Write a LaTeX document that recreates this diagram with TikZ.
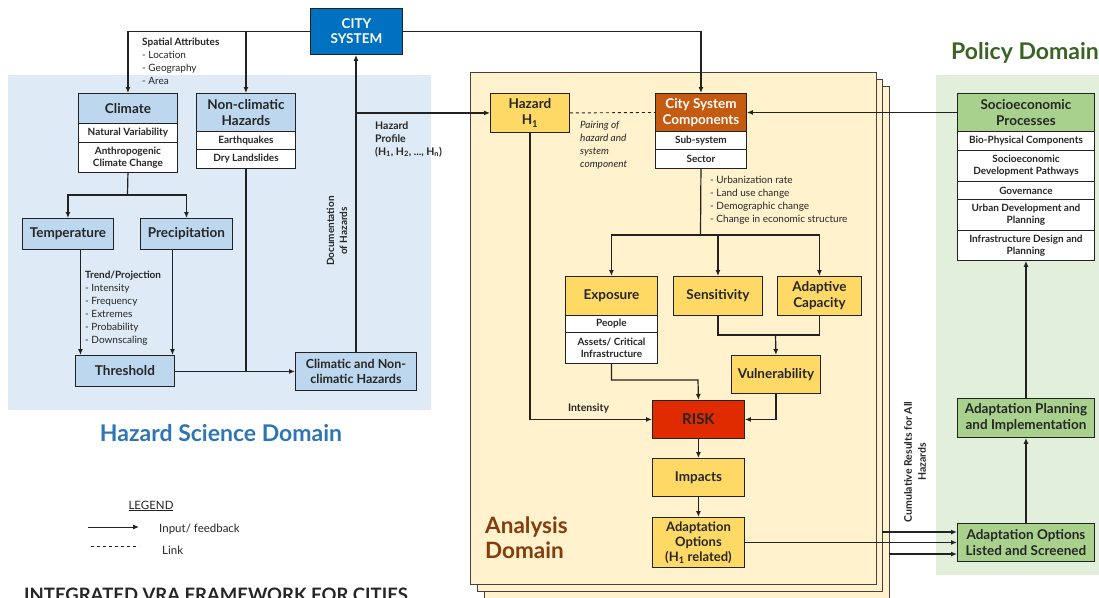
\documentclass[tikz,border=0pt]{standalone}
\usepackage{fontspec}
\setmainfont{Lato}
\usetikzlibrary{arrows.meta}
\definecolor{bluepanel}{HTML}{DEEAF6}
\definecolor{bluehdr}{HTML}{BDD7EE}
\definecolor{citybl}{HTML}{0070C0}
\definecolor{cream}{HTML}{FFF2CC}
\definecolor{yel}{HTML}{FFD966}
\definecolor{orng}{HTML}{C55A11}
\definecolor{riskred}{HTML}{E02A00}
\definecolor{greenpanel}{HTML}{E2EFDA}
\definecolor{greenbox}{HTML}{A9D18E}
\definecolor{titleblue}{HTML}{2E75B6}
\definecolor{titlegreen}{HTML}{3A6324}
\definecolor{brownt}{HTML}{843C0C}
\definecolor{lnc}{HTML}{222222}
\definecolor{txt}{HTML}{262626}
\begin{document}
\begin{tikzpicture}[x=1pt,y=-1pt,
  sz/.style 2 args={minimum width=#1,minimum height=#2},
  box/.style={draw=lnc,line width=0.9pt,inner sep=1pt,align=center,anchor=north west,text=txt,font=\bfseries\fontsize{13.5}{16}\selectfont},
  row/.style={box,fill=white,font=\bfseries\fontsize{10}{12}\selectfont},
  bhdr/.style={box,fill=bluehdr},
  yhdr/.style={box,fill=yel},
  ghdr/.style={box,fill=greenbox},
  ann/.style={anchor=north west,align=left,text=txt,inner sep=0pt,font=\fontsize{10}{13}\selectfont},
  ln/.style={line width=1.2pt,draw=lnc},
  arr/.style={ln,-{Latex[length=6pt,width=5pt]}},
  panel/.style={draw=lnc!85,line width=0.9pt,fill=cream},
  dtitle/.style={font=\bfseries\fontsize{23}{26}\selectfont}
]
\useasboundingbox (0,0) rectangle (1099,597);

% ---------- background panels ----------
\fill[bluepanel] (8,75) rectangle (431,410);
\fill[greenpanel] (936,75) rectangle (1099,575);
\draw[panel] (484,86) rectangle (889,610);
\draw[panel] (477,79) rectangle (882,591);
\draw[panel] (470,72) rectangle (876,584);

% ---------- titles ----------
\node[dtitle,text=titleblue] (hsd) at (221,433) {Hazard Science Domain};
\node[dtitle,text=titlegreen] (pd) at (1025,53) {Policy Domain};
\node[text=brownt,anchor=west,align=left,inner sep=0pt,font=\bfseries\fontsize{22.5}{25}\selectfont] (ad) at (485,538) {Analysis\\Domain};

% ---------- city system ----------
\node[box,fill=citybl,text=white,sz={92}{46},font=\bfseries\fontsize{13.5}{15}\selectfont] (city) at (310,8) {CITY\\SYSTEM};

% ---------- hazard science domain ----------
\node[bhdr,sz={99}{30}] (clim) at (78,93) {Climate};
\node[row,sz={99}{19}] (nv) at (78,123) {Natural Variability};
\node[row,sz={99}{30}] (acc) at (78,142) {Anthropogenic\\Climate Change};

\node[bhdr,sz={99}{38}] (nch) at (196,93) {Non-climatic\\Hazards};
\node[row,sz={99}{18}] (eq) at (196,131) {Earthquakes};
\node[row,sz={99}{19}] (dls) at (196,149) {Dry Landslides};

\node[bhdr,sz={91}{31}] (temp) at (22,218) {Temperature};
\node[bhdr,sz={92}{31}] (prec) at (140,218) {Precipitation};
\node[bhdr,sz={99}{31}] (thr) at (75,355) {Threshold};
\node[bhdr,sz={121}{38},font=\bfseries\fontsize{12.5}{15.5}\selectfont] (chz) at (295,352) {Climatic and Non-\\climatic Hazards};

\node[ann] (spat) at (142,38) {\textbf{Spatial Attributes}\\- Location\\- Geography\\- Area};
\node[ann] (trend) at (85,271) {\textbf{Trend/Projection}\\- Intensity\\- Frequency\\- Extremes\\- Probability\\- Downscaling};
\node[ann,font=\bfseries\fontsize{10.5}{13}\selectfont] (hprof) at (375,121) {Hazard\\Profile\\(H\textsubscript{1}, H\textsubscript{2}, ..., H\textsubscript{n})};
\node[rotate=90,align=center,text=txt,inner sep=0pt,font=\bfseries\fontsize{10}{13}\selectfont] (doc) at (337,231) {Documentation\\of Hazards};

% ---------- analysis domain ----------
\node[yhdr,sz={79}{39}] (hz) at (490,93) {Hazard\\H\textsubscript{1}};
\node[box,fill=orng,text=white,sz={91}{38}] (csc) at (655,93) {City System\\Components};
\node[row,sz={91}{18}] (sub) at (655,131) {Sub-system};
\node[row,sz={91}{19}] (sec) at (655,149) {Sector};
\node[ann,font=\itshape\fontsize{10}{13}\selectfont] (pair) at (580,121) {Pairing of\\hazard and\\system\\component};
\node[ann] (urb) at (710,176) {- Urbanization rate\\- Land use change\\- Demographic change\\- Change in economic structure};

\node[yhdr,sz={92}{39}] (expo) at (565,276) {Exposure};
\node[row,sz={92}{17}] (ppl) at (565,315) {People};
\node[row,sz={92}{31}] (ast) at (565,332) {Assets/ Critical\\Infrastructure};
\node[yhdr,sz={89}{39}] (sens) at (673,276) {Sensitivity};
\node[yhdr,sz={84}{39}] (adc) at (777,276) {Adaptive\\Capacity};
\node[yhdr,sz={89}{38}] (vul) at (731,355) {Vulnerability};
\node[box,fill=riskred,sz={92}{38},font=\bfseries\fontsize{15}{17}\selectfont] (risk) at (652,400) {RISK};
\node[yhdr,sz={92}{38}] (imp) at (652,458) {Impacts};
\node[yhdr,sz={92}{50},font=\bfseries\fontsize{13}{15}\selectfont] (ao) at (652,517) {Adaptation\\Options\\(H\textsubscript{1} related)};

\node[rotate=90,align=center,text=txt,inner sep=0pt,font=\bfseries\fontsize{10.5}{14}\selectfont] (cum) at (915,462) {Cumulative Results for All\\Hazards};

% ---------- policy domain ----------
\node[ghdr,sz={137}{38}] (seh) at (957,93) {Socioeconomic\\Processes};
\node[row,sz={137}{19}] (bio) at (957,131) {Bio-Physical Components};
\node[row,sz={137}{31}] (sdp) at (957,150) {Socioeconomic\\Development Pathways};
\node[row,sz={137}{18}] (gov) at (957,181) {Governance};
\node[row,sz={137}{31}] (udp) at (957,199) {Urban Development and\\Planning};
\node[row,sz={137}{30}] (idp) at (957,230) {Infrastructure Design and\\Planning};
\node[ghdr,sz={137}{39}] (plan) at (957,398) {Adaptation Planning\\and Implementation};
\node[ghdr,sz={137}{38}] (lst) at (957,523) {Adaptation Options\\Listed and Screened};

% ---------- connectors ----------
\draw[arr] (city.west) -| (clim.north);
\draw[arr] (nch.north |- city.west) -- (nch.north);
\draw[arr] (city.east) -| (csc.north);

\coordinate (cb) at (127.5,195);
\draw[ln] (acc.south) -- (cb);
\draw[arr] (cb) -| (temp.north);
\draw[arr] (cb) -| (prec.north);
\draw[arr] ([xshift=12.5]temp.south) -- ([xshift=12.5]temp.south |- thr.north);
\draw[arr] ([xshift=-14]prec.south) -- ([xshift=-14]prec.south |- thr.north);
\draw[arr] (thr.east) -- (chz.west -| thr.east) -- (chz.west);
\draw[ln] (dls.south) -- (dls.south |- thr.east);
\draw[arr] (chz.north) -- (chz.north |- city.south);
\draw[arr] (chz.north |- hz.west) -- (hz.west);

\draw[lnc,line width=0.9pt,dashed] (hz.east) -- (csc.west);
\draw[arr] (seh.west) -- (csc.east);

\coordinate (cb2) at (700.5,235);
\draw[ln] (sec.south) -- (cb2);
\draw[arr] (cb2) -| (expo.north);
\draw[arr] (cb2) -| (adc.north);
\draw[arr] (sens.north |- cb2) -- (sens.north);

\coordinate (vj) at (775.5,335);
\draw[ln] (sens.south) |- (vj);
\draw[ln] (adc.south) |- (vj);
\draw[arr] (vj) -- (vul.north);
\draw[arr] (vul.south) |- (risk.east);
\coordinate (ej) at (698,380);
\draw[arr] (ast.south) |- (ej) -- (risk.north);
\draw[arr] (hz.south) |- (risk.west) node[pos=0.74,above=2pt,text=txt,font=\bfseries\fontsize{10.5}{12}\selectfont] (int) {Intensity};
\draw[arr] (risk.south) -- (imp.north);
\draw[arr] (imp.south) -- (ao.north);

\draw[arr] (ao.east) -- (lst.west);
\coordinate (p2) at (882,532);
\coordinate (p3) at (889,554);
\draw[arr] (p2) -- (p2 -| lst.west);
\draw[arr] (p3) -- (p3 -| lst.west);
\draw[arr] (lst.north) -- (plan.south);
\draw[arr] (plan.north) -- (idp.south);

% ---------- legend ----------
\node[text=txt,font=\fontsize{11.5}{13}\selectfont] (leg) at (151,506) {\underline{LEGEND}};
\coordinate (la1) at (88,527);
\coordinate (la2) at (139,527);
\draw[arr,line width=1pt] (la1) -- (la2);
\node[anchor=west,inner sep=0pt,text=txt,font=\fontsize{11.5}{13}\selectfont] (lin) at (159,529) {Input/ feedback};
\coordinate (ld1) at (91,546);
\coordinate (ld2) at (139,546);
\draw[lnc,line width=0.8pt,dashed] (ld1) -- (ld2);
\node[anchor=west,inner sep=0pt,text=txt,font=\fontsize{11.5}{13}\selectfont] (llk) at (162,550) {Link};

\node[anchor=base west,inner sep=0pt,text=txt,font=\bfseries\fontsize{18.5}{20}\selectfont] (ttl) at (24,601) {INTEGRATED VRA FRAMEWORK FOR CITIES};
\end{tikzpicture}
\end{document}
